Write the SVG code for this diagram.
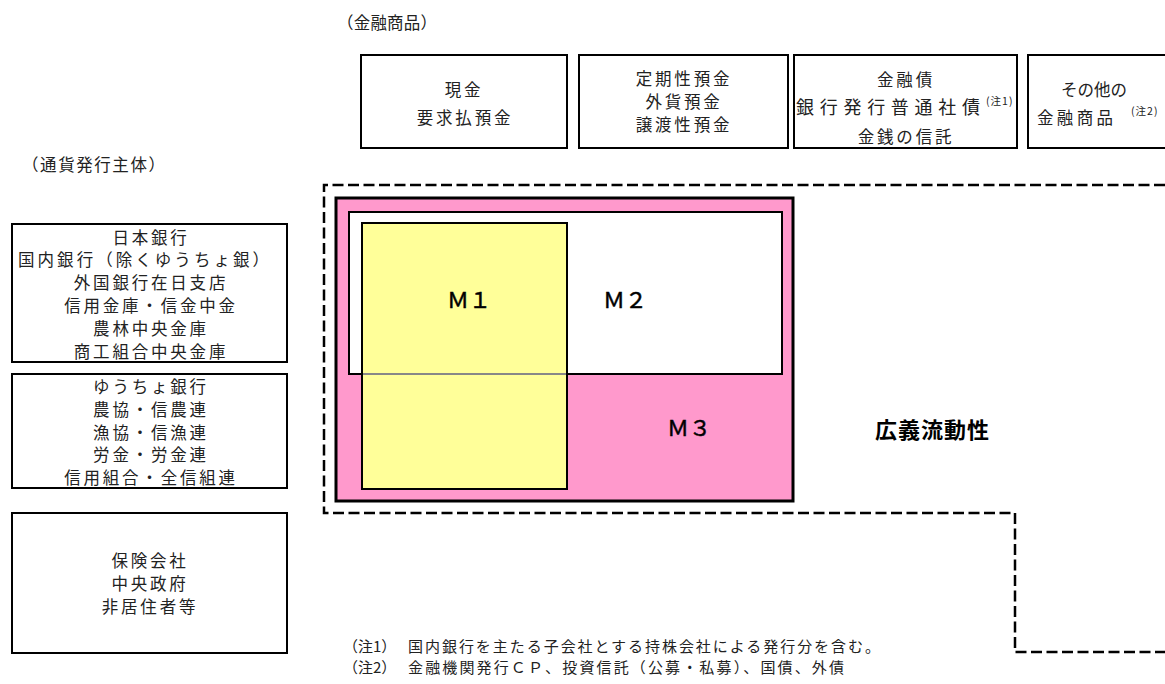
<svg xmlns="http://www.w3.org/2000/svg" width="1165" height="684" viewBox="0 0 1165 684">
<style>
text{font-family:"Noto Sans CJK JP","Noto Sans",sans-serif;fill:#222;}
.t{font-size:16.5px;text-anchor:middle;letter-spacing:2.8px;}
.s{font-size:16.5px;}
.sup{font-size:10.5px;letter-spacing:1px;}
.m{font-size:22px;text-anchor:middle;fill:#000;stroke:#000;stroke-width:0.5;}
.big{font-size:22px;font-weight:bold;fill:#000;}
.box{fill:#fff;stroke:#000;stroke-width:2;}
.n{font-size:15px;}
</style>
<rect width="1165" height="684" fill="#fff"/>

<text class="s" x="337" y="29" textLength="100" lengthAdjust="spacing">（金融商品）</text>
<text class="s" x="22" y="171" textLength="143" lengthAdjust="spacing">（通貨発行主体）</text>

<g id="prod-cash">
<rect class="box" x="361" y="55" width="206" height="93"/>
<text class="t" x="464" y="96">現金</text>
<text class="t" x="465" y="124">要求払預金</text>
</g>
<g id="prod-time">
<rect class="box" x="579" y="55" width="209" height="93"/>
<text class="t" x="684" y="85">定期性預金</text>
<text class="t" x="684" y="108">外貨預金</text>
<text class="t" x="684" y="131">譲渡性預金</text>
</g>
<g id="prod-bonds">
<rect class="box" x="794" y="55" width="223" height="93"/>
<text class="t" x="906" y="86">金融債</text>
<text x="796" y="114" font-size="18" textLength="184" lengthAdjust="spacing">銀行発行普通社債</text>
<text class="sup" x="986" y="105">(注1)</text>
<text class="t" x="906" y="143">金銭の信託</text>
</g>
<g id="prod-other">
<path d="M1167 55 H1028 V148 H1167" fill="#fff" stroke="#000" stroke-width="2"/>
<text class="s" x="1061" y="96" textLength="66" lengthAdjust="spacing">その他の</text>
<text class="s" x="1037" y="124" textLength="76" lengthAdjust="spacing">金融商品</text>
<text class="sup" x="1131" y="115">(注2)</text>
</g>

<g id="issuer-banks">
<rect class="box" x="12" y="224" width="275" height="138"/>
<text class="t" x="151" y="244">日本銀行</text>
<text class="s" x="18" y="266" textLength="251" lengthAdjust="spacing">国内銀行（除くゆうちょ銀）</text>
<text class="t" x="151" y="289">外国銀行在日支店</text>
<text class="t" x="151" y="312">信用金庫・信金中金</text>
<text class="t" x="151" y="335">農林中央金庫</text>
<text class="t" x="151" y="358">商工組合中央金庫</text>
</g>
<g id="issuer-coops">
<rect class="box" x="12" y="374" width="275" height="114"/>
<text class="t" x="151" y="393">ゆうちょ銀行</text>
<text class="t" x="151" y="416">農協・信農連</text>
<text class="t" x="151" y="439">漁協・信漁連</text>
<text class="t" x="151" y="461">労金・労金連</text>
<text class="t" x="151" y="484">信用組合・全信組連</text>
</g>
<g id="issuer-others">
<rect class="box" x="12" y="513" width="275" height="140"/>
<text class="t" x="150" y="567">保険会社</text>
<text class="t" x="150" y="590">中央政府</text>
<text class="t" x="150" y="613">非居住者等</text>
</g>

<g id="broad-liquidity">
<path d="M1165 185 H324 V513 H1015 V652 H1165" fill="none" stroke="#000" stroke-width="2.5" stroke-dasharray="11 4.5"/>
<text class="big" x="875" y="438" textLength="114" lengthAdjust="spacing">広義流動性</text>
</g>

<g id="m3">
<rect x="336" y="198" width="457" height="303" fill="#FF99CC" stroke="#000" stroke-width="3"/>
<text class="m" x="689" y="436">Ｍ３</text>
</g>
<g id="m2">
<rect x="349" y="212" width="433" height="162" fill="#fff" stroke="#000" stroke-width="2"/>
<text class="m" x="625" y="308">Ｍ２</text>
</g>
<g id="m1">
<rect x="362" y="223" width="205" height="266" fill="#FFFF99" stroke="#000" stroke-width="2"/>
<line x1="363" y1="374" x2="566" y2="374" stroke="#888" stroke-width="2"/>
<text class="m" x="469" y="308">Ｍ１</text>
</g>

<g id="notes">
<text class="n" x="343" y="652">（注1）</text>
<text class="n" x="408" y="652" textLength="472" lengthAdjust="spacing">国内銀行を主たる子会社とする持株会社による発行分を含む。</text>
<text class="n" x="343" y="673">（注2）</text>
<text class="n" x="408" y="673" textLength="436" lengthAdjust="spacing">金融機関発行ＣＰ、投資信託（公募・私募）、国債、外債</text>
</g>
</svg>
